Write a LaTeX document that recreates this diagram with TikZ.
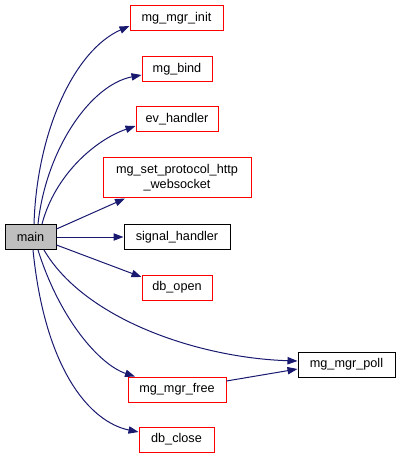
\documentclass[tikz,border=0pt]{standalone}
\usepackage{fontspec}
\setmainfont{Liberation Sans}
\usetikzlibrary{arrows.meta}
\definecolor{edgeblue}{HTML}{191970}
\definecolor{mainfill}{HTML}{BFBFBF}
\tikzset{
  fn/.style={draw=black, line width=0.75pt, fill=white, inner sep=0pt, minimum height=18.75pt,
    font=\fontsize{9.5}{11}\selectfont, align=center},
  redfn/.style={fn, draw=red},
  call/.style={draw=edgeblue, line width=0.75pt,
    -{Triangle[length=7.5pt,width=5.5pt,fill=edgeblue]}},
}
\begin{document}
\begin{tikzpicture}[x=0.75pt,y=-0.75pt]
\useasboundingbox (0,0) rectangle (400,459);
\node[fn, fill=mainfill, minimum width=38.25pt] (main) at (30.5,237) {main};
\node[redfn, minimum width=69.75pt] (init) at (176.5,18.5) {mg\_mgr\_init};
\node[redfn, minimum width=52.5pt] (bind) at (177,69.5) {mg\_bind};
\node[redfn, minimum width=61.5pt] (ev) at (177,119.5) {ev\_handler};
\node[redfn, minimum width=111pt, minimum height=30pt] (proto) at (177,178) {mg\_set\_protocol\_http\\\_websocket};
\node[fn, minimum width=79.5pt] (sig) at (177,237) {signal\_handler};
\node[redfn, minimum width=52.5pt] (dbopen) at (177,287.5) {db\_open};
\node[fn, minimum width=72.75pt] (poll) at (346.5,364.5) {mg\_mgr\_poll};
\node[redfn, minimum width=73.5pt] (free) at (177,389.5) {mg\_mgr\_free};
\node[redfn, minimum width=56.25pt] (dbclose) at (176.5,439.5) {db\_close};

\draw[call] (main.north -| 34,0) .. controls (37,130) and (75,50) .. (init.west |- 0,26);
\draw[call] (main.north -| 38,0) .. controls (46,150) and (90,85) .. (bind.west |- 0,75);
\draw[call] (main.north -| 42,0) .. controls (55,175) and (95,140) .. (ev.west |- 0,126);
\draw[call] (main.east |- 0,229) -- (proto.south -| 125,0);
\draw[call] (main.east) -- (sig.west);
\draw[call] (main.east |- 0,245) -- (dbopen.west |- 0,277);
\draw[call] (main.south -| 44,0) .. controls (85,320) and (200,358) .. (poll.west |- 0,361);
\draw[call] (main.south -| 38,0) .. controls (60,320) and (100,365) .. (free.north -| 135,0);
\draw[call] (main.south -| 33,0) .. controls (45,370) and (90,422) .. (dbclose.west |- 0,432);
\draw[call] (free.east |- 0,381) -- (poll.west |- 0,369);
\end{tikzpicture}
\end{document}
